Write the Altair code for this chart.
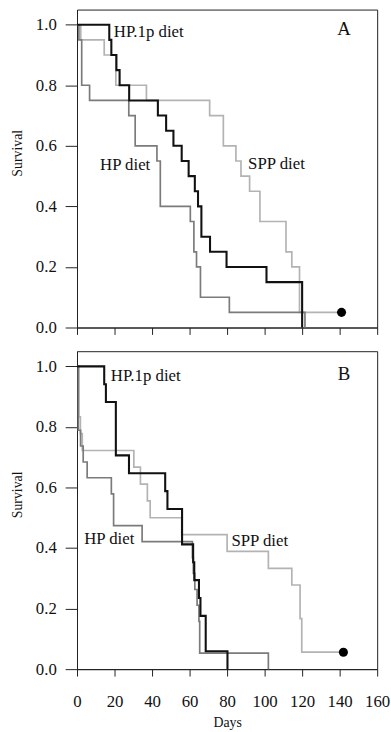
import altair as alt
import pandas as pd

# ---------------- data ----------------
# Panel A
a_hp1p_days = [0, 17.2, 18.3, 21.0, 22.7, 27.8, 43.1, 47.5, 51.4, 55.8, 59.5, 62.8, 64.5, 66.3, 70.9, 79.7, 101.0, 120.0]
a_hp1p_surv = [1.0, 0.95, 0.90, 0.85, 0.80, 0.75, 0.70, 0.65, 0.60, 0.55, 0.50, 0.45, 0.40, 0.30, 0.25, 0.20, 0.15, 0.0]

a_hp_days = [0, 1.0, 2.5, 6.7, 27.6, 31.0, 42.6, 44.4, 60.4, 62.3, 63.7, 65.8, 81.2, 121.5]
a_hp_surv = [1.0, 0.95, 0.80, 0.75, 0.70, 0.60, 0.55, 0.40, 0.35, 0.25, 0.20, 0.10, 0.05, 0.0]

a_spp_days = [0, 2.0, 14.5, 20.7, 37.0, 70.7, 78.0, 84.7, 87.4, 92.0, 97.5, 111.4, 114.5, 118.6, 141.0]
a_spp_surv = [1.0, 0.95, 0.90, 0.80, 0.75, 0.70, 0.60, 0.55, 0.50, 0.45, 0.35, 0.25, 0.20, 0.05, 0.05]

# Panel B
b_hp1p_days = [0, 14.5, 15.4, 20.7, 27.7, 47.0, 48.2, 56.0, 61.9, 62.5, 65.0, 65.8, 68.6, 80.2]
b_hp1p_surv = [1.0, 0.941, 0.882, 0.706, 0.647, 0.588, 0.529, 0.412, 0.353, 0.294, 0.235, 0.176, 0.059, 0.0]

b_hp_days = [0, 0.7, 1.9, 3.3, 5.4, 18.3, 19.5, 34.7, 61.5, 62.0, 62.8, 64.0, 65.0, 65.4, 102.0]
b_hp_surv = [1.0, 0.789, 0.737, 0.684, 0.632, 0.579, 0.474, 0.421, 0.368, 0.316, 0.263, 0.211, 0.158, 0.053, 0.0]

b_spp_days = [0, 1.0, 1.8, 2.8, 30.3, 33.8, 37.5, 39.0, 55.8, 80.0, 102.0, 114.5, 118.9, 119.8, 142.0]
b_spp_surv = [1.0, 0.833, 0.778, 0.722, 0.667, 0.611, 0.556, 0.500, 0.444, 0.389, 0.333, 0.278, 0.167, 0.056, 0.056]

# end-of-study markers
a_dot_day, a_dot_surv = [141.0], [0.05]
b_dot_day, b_dot_surv = [142.0], [0.056]

# text annotations (data coordinates)
a_label_text = ["HP.1p diet", "HP diet", "SPP diet"]
a_label_day = [19.6, 12.3, 91.2]
a_label_surv = [0.975, 0.535, 0.54]
b_label_text = ["HP.1p diet", "HP diet", "SPP diet"]
b_label_day = [18.0, 3.8, 82.3]
b_label_surv = [0.967, 0.431, 0.424]
panel_letters = ["A", "B"]
letter_day = [142.3, 142.3]
letter_surv = [0.984, 0.974]

x_ticks = [0, 20, 40, 60, 80, 100, 120, 140, 160]
y_ticks = [0.0, 0.2, 0.4, 0.6, 0.8, 1.0]

FONT = "Liberation Serif"
C_HP1P = "#111111"
C_HP = "#7b7b7b"
C_SPP = "#b3b3b3"

W, H = 304, 322


def curve(days, surv):
    return pd.DataFrame({"day": days, "surv": surv, "i": list(range(len(days)))})


def panel(hp1p, hp, spp, dot, labels, letter, bottom):
    xs = alt.Scale(domain=[0, 160], nice=False, zero=False)
    ys = alt.Scale(domain=[0, 1.05], nice=False)
    if bottom:
        xax = alt.Axis(values=x_ticks, tickSize=7, labelPadding=18, title="Days",
                       titlePadding=6, labelFlush=False, labelOverlap=False,
                       labelSeparation=0)
    else:
        xax = alt.Axis(values=x_ticks, tickSize=7, labels=False, title=None)
    yax = alt.Axis(values=y_ticks, format=".1f", tickSize=12, labelPadding=9,
                   title="Survival", titlePadding=11, titleY=145,
                   labelOverlap=False)
    X = alt.X("day:Q", scale=xs, axis=xax)
    Y = alt.Y("surv:Q", scale=ys, axis=yax)

    def line(df, color, sw):
        return alt.Chart(df).mark_line(interpolate="step-after", color=color,
                                       strokeWidth=sw).encode(x=X, y=Y, order="i:O")

    l_spp = line(spp, C_SPP, 1.7)
    l_hp = line(hp, C_HP, 1.7)
    l_hp1p = line(hp1p, C_HP1P, 2.1)
    d = alt.Chart(dot).mark_circle(size=85, color="black", opacity=1).encode(x=X, y=Y)
    t = alt.Chart(labels).mark_text(align="left", baseline="middle", font=FONT,
                                    fontSize=17, color="#111111").encode(
        x=X, y=Y, text="text:N")
    lt = alt.Chart(letter).mark_text(align="center", baseline="middle", font=FONT,
                                     fontSize=19, color="#111111").encode(
        x=X, y=Y, text="text:N")
    return alt.layer(l_spp, l_hp, l_hp1p, d, t, lt).properties(width=W, height=H)


pa = panel(curve(a_hp1p_days, a_hp1p_surv), curve(a_hp_days, a_hp_surv),
           curve(a_spp_days, a_spp_surv),
           pd.DataFrame({"day": a_dot_day, "surv": a_dot_surv}),
           pd.DataFrame({"day": a_label_day, "surv": a_label_surv, "text": a_label_text}),
           pd.DataFrame({"day": letter_day[:1], "surv": letter_surv[:1], "text": panel_letters[:1]}),
           False)
pb = panel(curve(b_hp1p_days, b_hp1p_surv), curve(b_hp_days, b_hp_surv),
           curve(b_spp_days, b_spp_surv),
           pd.DataFrame({"day": b_dot_day, "surv": b_dot_surv}),
           pd.DataFrame({"day": b_label_day, "surv": b_label_surv, "text": b_label_text}),
           pd.DataFrame({"day": letter_day[1:], "surv": letter_surv[1:], "text": panel_letters[1:]}),
           True)

chart = alt.vconcat(pa, pb, spacing=14).properties(
    padding={"left": 10, "top": 4, "right": 0, "bottom": 0},
    background="white",
).configure_view(
    stroke="#222222", strokeWidth=1
).configure_axis(
    grid=False, domainColor="#222222", tickColor="#222222", labelColor="#111111",
    titleColor="#111111", labelFont=FONT, titleFont=FONT, labelFontSize=17,
    titleFontSize=14, titleFontWeight="normal", domainWidth=1, tickWidth=1,
    labelOverlap=False,
)

chart.save("out.html", embed_options={"renderer": "svg", "actions": False})
